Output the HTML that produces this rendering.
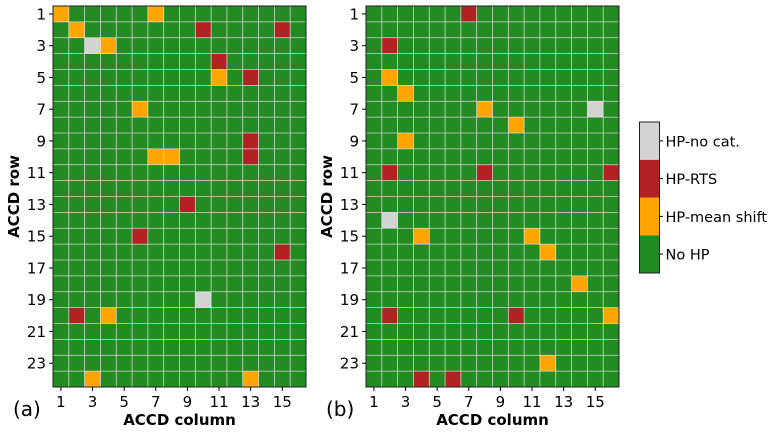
<!DOCTYPE html>
<html><head><meta charset="utf-8">
<style>
html,body{margin:0;padding:0;background:#fff;}
svg{display:block;font-family:"DejaVu Sans","Liberation Sans",sans-serif;}
</style></head>
<body>
<svg id="chart" width="772" height="432" viewBox="0 0 772 432" xmlns="http://www.w3.org/2000/svg"></svg>
<script>
// categories: 0 = No HP, 1 = HP-mean shift, 2 = HP-RTS, 3 = HP-no cat.
const categoryLabels = ["No HP", "HP-mean shift", "HP-RTS", "HP-no cat."];
const categoryColors = ["#228b22", "#ffa500", "#b22222", "#d3d3d3"];
const nCols = 16;
const nRows = 24;
const xTickLabels = [1,3,5,7,9,11,13,15];
const yTickLabels = [1,3,5,7,9,11,13,15,17,19,21,23];
// panel (a) anomalies: [column, row, category]
const cellsA = [
  [1,1,1],[7,1,1],
  [2,2,1],[10,2,2],[15,2,2],
  [3,3,3],[4,3,1],
  [11,4,2],
  [11,5,1],[13,5,2],
  [6,7,1],
  [13,9,2],
  [7,10,1],[8,10,1],[13,10,2],
  [9,13,2],
  [6,15,2],
  [15,16,2],
  [10,19,3],
  [2,20,2],[4,20,1],
  [3,24,1],[13,24,1]
];
// panel (b) anomalies: [column, row, category]
const cellsB = [
  [7,1,2],
  [2,3,2],
  [2,5,1],
  [3,6,1],
  [8,7,1],[15,7,3],
  [10,8,1],
  [3,9,1],
  [2,11,2],[8,11,2],[16,11,2],
  [2,14,3],
  [4,15,1],[11,15,1],
  [12,16,1],
  [14,18,1],
  [2,20,2],[10,20,2],[16,20,1],
  [12,23,1],
  [4,24,2],[6,24,2]
];

const NS = "http://www.w3.org/2000/svg";
const svg = document.getElementById("chart");
function mk(tag, attrs, parent){
  const e = document.createElementNS(NS, tag);
  for (const k in attrs) e.setAttribute(k, attrs[k]);
  (parent||svg).appendChild(e);
  return e;
}

function drawPanel(x0, x1, y0, y1, cells, panelLetter, id){
  const g = mk("g", {});
  
  
  const cw = (x1 - x0) / nCols, ch = (y1 - y0) / nRows;
  const xs = c => x0 + (c - 1) * cw;
  const ys = r => y0 + (r - 1) * ch;
  const grid = [];
  for (let r = 0; r < nRows; r++){ grid.push(new Array(nCols).fill(0)); }
  cells.forEach(([c, r, v]) => { grid[r-1][c-1] = v; });
  for (let r = 1; r <= nRows; r++){
    for (let c = 1; c <= nCols; c++){
      const v = grid[r-1][c-1];
      const rect = mk("rect", {x: xs(c), y: ys(r), width: cw, height: ch, fill: categoryColors[v]}, g);
      
      
    }
  }
  for (let c = 1; c < nCols; c++){
    const l = mk("line", {x1: xs(c+1), x2: xs(c+1), y1: y0, y2: y1, stroke: "#e6e6e6", "stroke-width": 0.8, opacity: 0.85}, g);
    
    
  }
  for (let r = 1; r < nRows; r++){
    const l = mk("line", {x1: x0, x2: x1, y1: ys(r+1), y2: ys(r+1), stroke: "#e6e6e6", "stroke-width": 0.8, opacity: 0.85}, g);
    
    
  }
  const frame = mk("rect", {x: x0, y: y0, width: x1 - x0, height: y1 - y0, fill: "none", stroke: "#222", "stroke-width": 1}, g);
  
  
  xTickLabels.forEach(t => {
    const cx = xs(t) + cw / 2;
    mk("line", {x1: cx, x2: cx, y1: y1, y2: y1 + 4, stroke: "#000", "stroke-width": 1}, g);
    const tx = mk("text", {x: cx, y: y1 + 20, "font-size": 15, "text-anchor": "middle", fill: "#000"}, g);
    tx.textContent = t;
    
    
  });
  yTickLabels.forEach(t => {
    const cy = ys(t) + ch / 2;
    mk("line", {x1: x0 - 4, x2: x0, y1: cy, y2: cy, stroke: "#000", "stroke-width": 1}, g);
    const tx = mk("text", {x: x0 - 7, y: cy + 5.5, "font-size": 15, "text-anchor": "end", fill: "#000"}, g);
    tx.textContent = t;
    
    
  });
  const xt = mk("text", {x: (x0 + x1) / 2, y: 425, "font-size": 15, "font-weight": "bold", "text-anchor": "middle", fill: "#000"}, g);
  xt.textContent = "ACCD column";
  
  
  const yt = mk("text", {x: 0, y: 0, "font-size": 15, "font-weight": "bold", "text-anchor": "middle", fill: "#000",
    transform: "translate(" + (x0 - 34) + "," + ((y0 + y1) / 2) + ") rotate(-90)"}, g);
  yt.textContent = "ACCD row";
  
  
  const pl = mk("text", {x: x0 - 40, y: 416, "font-size": 20, fill: "#000"}, g);
  pl.textContent = "(" + panelLetter + ")";
  
  
}

drawPanel(53, 306, 6, 387, cellsA, "a", "a");
drawPanel(366, 619, 6, 387, cellsB, "b", "b");

const cb = mk("g", {});


const cbx = 639.5, cbw = 20, cbTop = 122, cbBot = 273;
const segH = (cbBot - cbTop) / categoryLabels.length;
categoryLabels.forEach((lab, i) => {
  const yTop = cbBot - (i + 1) * segH;
  const r = mk("rect", {x: cbx, y: yTop, width: cbw, height: segH, fill: categoryColors[i]}, cb);
  
  
  const cy = yTop + segH / 2;
  mk("line", {x1: cbx + cbw, x2: cbx + cbw + 3.5, y1: cy, y2: cy, stroke: "#000", "stroke-width": 1}, cb);
  const t = mk("text", {x: cbx + cbw + 6, y: cy + 5.5, "font-size": 14.5, fill: "#000"}, cb);
  t.textContent = lab;
  
  
});
const cbf = mk("rect", {x: cbx, y: cbTop, width: cbw, height: cbBot - cbTop, fill: "none", stroke: "#222", "stroke-width": 1}, cb);


</script>
</body></html>
